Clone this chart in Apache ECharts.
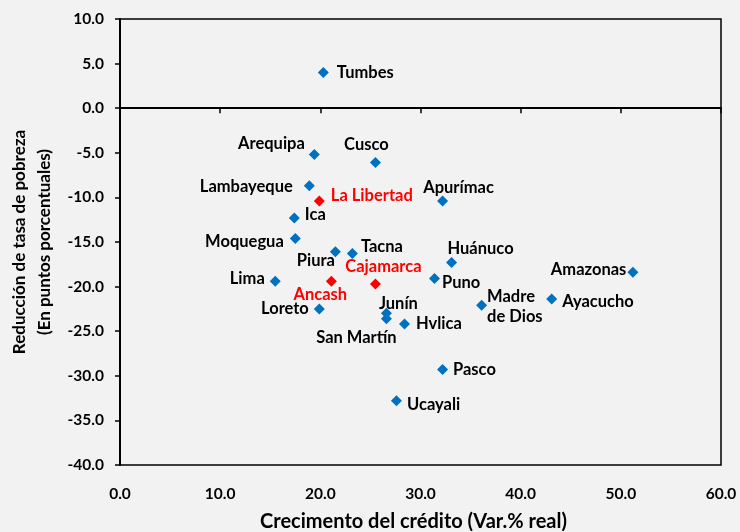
<!DOCTYPE html>
<html>
<head>
<meta charset="utf-8">
<title>Crédito y pobreza</title>
<script src="https://cdn.jsdelivr.net/npm/echarts@6/dist/echarts.min.js"></script>
<style>
  html, body { margin: 0; padding: 0; background: #f2f2f2; }
  #main { width: 740px; height: 532px; }
</style>
</head>
<body>
<div id="main"></div>
<script>
// datos: region, crecimiento del credito (x), reduccion de pobreza (y)
var regiones = ['Tumbes', 'Arequipa', 'Cusco', 'Lambayeque', 'La Libertad', 'Apurímac', 'Ica', 'Moquegua',
    'Piura', 'Tacna', 'Huánuco', 'Lima', 'Ancash', 'Cajamarca', 'Puno', 'Amazonas', 'Ayacucho',
    'Madre de Dios', 'Loreto', 'Junín', 'San Martín', 'Hvlica', 'Pasco', 'Ucayali'];
var credito = [20.3, 19.4, 25.5, 18.9, 19.9, 32.2, 17.4, 17.5,
    21.5, 23.2, 33.1, 15.5, 21.1, 25.5, 31.4, 51.2, 43.1,
    36.1, 19.9, 26.6, 26.6, 28.4, 32.2, 27.6];
var pobreza = [4.0, -5.2, -6.1, -8.7, -10.4, -10.4, -12.3, -14.6,
    -16.1, -16.3, -17.3, -19.4, -19.4, -19.7, -19.1, -18.4, -21.4,
    -22.1, -22.5, -23.0, -23.6, -24.2, -29.3, -32.8];
var destacadas = ['La Libertad', 'Ancash', 'Cajamarca'];
var xTicks = [0, 10, 20, 30, 40, 50, 60];
var yTicks = [-40, -35, -30, -25, -20, -15, -10, -5, 0, 5, 10];

// ubicacion de las etiquetas (solo estilo)
var etiquetas = {
    'Tumbes':        { position: 'right',  distance: 8, offset: [0, 0] },
    'Arequipa':      { position: 'left',   distance: 4, offset: [0, -11] },
    'Cusco':         { position: 'top',    distance: 2, offset: [-9, 0] },
    'Lambayeque':    { position: 'left',   distance: 11, offset: [0, 1] },
    'La Libertad':   { position: 'right',  distance: 6, offset: [0, -5] },
    'Apurímac':      { position: 'top',    distance: 0, offset: [16, 2] },
    'Ica':           { position: 'right',  distance: 5, offset: [0, -3] },
    'Moquegua':      { position: 'left',   distance: 6, offset: [0, 3] },
    'Piura':         { position: 'left',   distance: 0, offset: [5, 9] },
    'Tacna':         { position: 'right',  distance: 3, offset: [0, -7] },
    'Huánuco':       { position: 'top',    distance: 0, offset: [29, 2] },
    'Lima':          { position: 'left',   distance: 5, offset: [0, -3] },
    'Ancash':        { position: 'bottom', distance: 0, offset: [-11, -2] },
    'Cajamarca':     { position: 'top',    distance: 2, offset: [8, 0] },
    'Puno':          { position: 'right',  distance: 2, offset: [0, 4] },
    'Amazonas':      { position: 'left',   distance: 1, offset: [0, -3] },
    'Ayacucho':      { position: 'right',  distance: 5, offset: [0, 3] },
    'Madre de Dios': { position: 'right',  distance: 0, offset: [0, 1] },
    'Loreto':        { position: 'left',   distance: 5, offset: [0, 0] },
    'Junín':         { position: 'top',    distance: -6, offset: [12, 0] },
    'San Martín':    { position: 'bottom', distance: 3, offset: [-30, 0] },
    'Hvlica':        { position: 'right',  distance: 6, offset: [0, 0] },
    'Pasco':         { position: 'right',  distance: 5, offset: [0, 0] },
    'Ucayali':       { position: 'right',  distance: 5, offset: [0, 4] }
};

var fuente = 'Lato, "Open Sans", sans-serif';

var puntos = regiones.map(function (nombre, i) {
    var rojo = destacadas.indexOf(nombre) >= 0;
    var et = etiquetas[nombre];
    return {
        name: nombre,
        value: [credito[i], pobreza[i]],
        itemStyle: { color: rojo ? '#ff0000' : '#0070c0', opacity: 1 },
        label: {
            show: true,
            position: et.position,
            distance: et.distance,
            offset: et.offset,
            color: rojo ? '#ff0000' : '#000000',
            formatter: nombre === 'Madre de Dios' ? 'Madre\nde Dios' : nombre
        }
    };
});

var chart = echarts.init(document.getElementById('main'));

var option = {
    backgroundColor: '#f2f2f2',
    animation: false,
    grid: {
        left: 120, right: 19, top: 19, bottom: 67,
        outerBoundsMode: 'none',
        containLabel: false,
        show: true,
        borderColor: '#000',
        borderWidth: 1.5,
        backgroundColor: 'transparent'
    },
    xAxis: [{
        type: 'value',
        position: 'bottom',
        min: xTicks[0], max: xTicks[xTicks.length - 1], interval: 10,
        axisLine: { show: false },
        axisTick: { show: false },
        splitLine: { show: false },
        axisLabel: {
            margin: 21,
            fontFamily: fuente, fontWeight: 'bold', fontSize: 15.5, color: '#000',
            formatter: function (v) { return v.toFixed(1); }
        },
        name: 'Crecimento del crédito (Var.% real)',
        nameLocation: 'middle',
        nameGap: 47,
        nameTextStyle: { fontFamily: fuente, fontWeight: 'bold', fontSize: 20, color: '#000', padding: [0, 14, 0, 0] }
    }, {
        // linea del cero con sus marcas
        type: 'value',
        position: 'bottom',
        min: xTicks[0], max: xTicks[xTicks.length - 1], interval: 10,
        axisLine: { show: true, onZero: true, onZeroAxisIndex: 0, lineStyle: { color: '#000', width: 2 } },
        axisTick: { show: true, length: 5, lineStyle: { color: '#000', width: 1.5 } },
        axisLabel: { show: false },
        splitLine: { show: false }
    }],
    yAxis: {
        type: 'value',
        min: yTicks[0], max: yTicks[yTicks.length - 1], interval: 5,
        axisLine: { show: true, onZero: false, lineStyle: { color: '#000', width: 2 } },
        axisTick: { show: true, length: 5, lineStyle: { color: '#000', width: 1.5 } },
        splitLine: { show: false },
        axisLabel: {
            margin: 16,
            fontFamily: fuente, fontWeight: 'bold', fontSize: 15.5, color: '#000',
            formatter: function (v) { return v.toFixed(1); }
        },
        name: 'Reducción de tasa de pobreza\n(En puntos porcentuales)',
        nameLocation: 'middle',
        nameGap: 61,
        nameTextStyle: { fontFamily: fuente, fontWeight: 'bold', fontSize: 17, color: '#000', lineHeight: 25 }
    },
    series: [{
        type: 'scatter',
        xAxisIndex: 0,
        symbol: 'diamond',
        symbolSize: 11,
        label: {
            fontFamily: fuente, fontWeight: 'bold', fontSize: 16.5, lineHeight: 20
        },
        data: puntos
    }]
};

chart.setOption(option);
</script>
</body>
</html>
